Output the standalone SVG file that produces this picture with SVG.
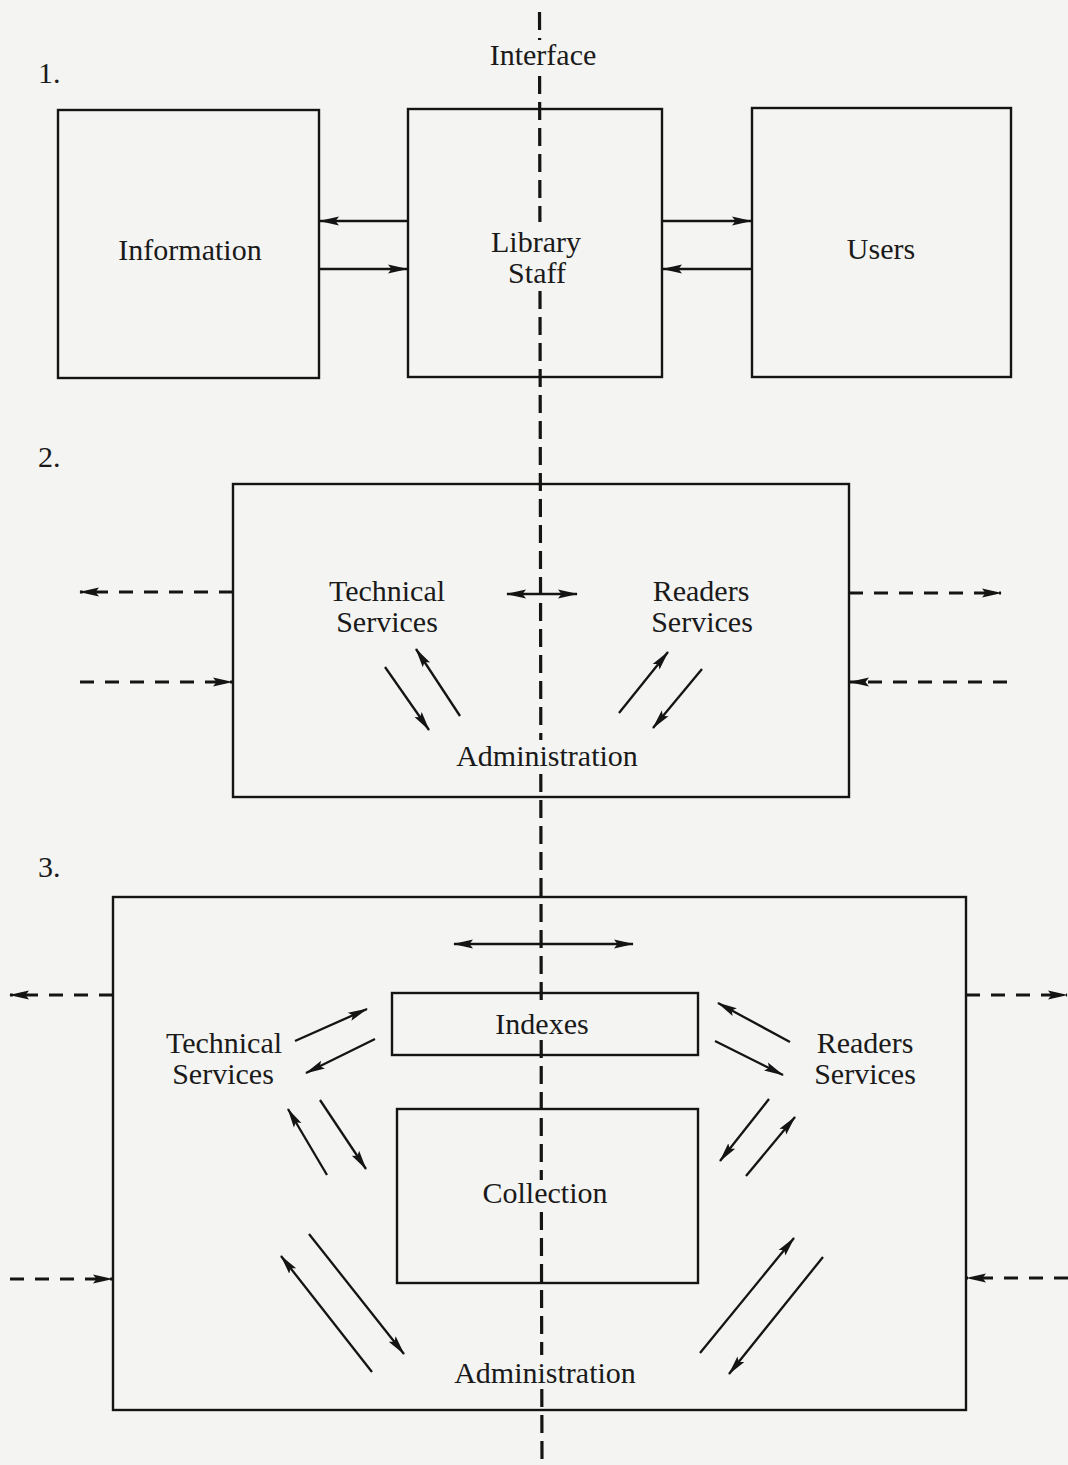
<svg xmlns="http://www.w3.org/2000/svg" width="1068" height="1465" viewBox="0 0 1068 1465">
<defs>
<marker id="ah" markerUnits="userSpaceOnUse" markerWidth="20" markerHeight="12" viewBox="0 0 20 12" refX="19" refY="6" orient="auto-start-reverse">
<path d="M0,1.6 L20,6 L0,10.4 L3.5,6 z" fill="#141414"/>
</marker>
</defs>
<style>
.box{fill:none;stroke:#141414;stroke-width:2.4}
.ar{fill:none;stroke:#141414;stroke-width:2.3;marker-end:url(#ah)}
.da{fill:none;stroke:#141414;stroke-width:2.8;stroke-dasharray:14 11;marker-end:url(#ah)}
.dbl{fill:none;stroke:#141414;stroke-width:2.3;marker-start:url(#ah);marker-end:url(#ah)}
.iface{fill:none;stroke:#141414;stroke-width:3.2;stroke-dasharray:18 8}
text{font-family:"Liberation Serif","DejaVu Serif",serif;font-size:30px;fill:#1a1a1a}
.c{text-anchor:middle}
</style>
<rect x="0" y="0" width="1068" height="1465" fill="#f4f4f2"/>

<g id="labels" font-family="Liberation Serif, serif">
<text x="38" y="83">1.</text>
<text x="38" y="467">2.</text>
<text x="38" y="877">3.</text>
</g>

<g id="interface">
<text class="c" x="543" y="65">Interface</text>
</g>

<g id="connectors">
<path class="iface" d="M539.5,12 L539.6,40 M539.6,76 L539.9,222 M540,291 L540.8,740 M540.8,774 L541.2,1004 M541.2,1040 L541.3,1180 M541.4,1212 L541.7,1355 M541.8,1389 L542,1465"/>
<!-- section 1 -->
<line class="ar" x1="408" y1="221" x2="320" y2="221"/>
<line class="ar" x1="319" y1="269" x2="407" y2="269"/>
<line class="ar" x1="662" y1="221" x2="751" y2="221"/>
<line class="ar" x1="752" y1="269" x2="663" y2="269"/>
<!-- section 2 -->
<line class="da" x1="233" y1="592" x2="80" y2="592"/>
<line class="da" x1="80" y1="682" x2="232" y2="682"/>
<line class="da" x1="849" y1="593" x2="1001" y2="593"/>
<line class="da" x1="1007" y1="682" x2="850" y2="682"/>
<line class="dbl" x1="507" y1="594" x2="577" y2="594"/>
<line class="ar" x1="385" y1="667" x2="429" y2="730"/>
<line class="ar" x1="460" y1="716" x2="416" y2="649"/>
<line class="ar" x1="619" y1="713" x2="668" y2="652"/>
<line class="ar" x1="702" y1="669" x2="653" y2="728"/>
<!-- section 3 -->
<line class="dbl" x1="454" y1="944" x2="633" y2="944"/>
<line class="da" x1="113" y1="995" x2="10" y2="995"/>
<line class="da" x1="966" y1="995" x2="1067" y2="995"/>
<line class="da" x1="10" y1="1279" x2="112" y2="1279"/>
<line class="da" x1="1068" y1="1278" x2="967" y2="1278"/>
<line class="ar" x1="295" y1="1041" x2="367" y2="1009"/>
<line class="ar" x1="375" y1="1039" x2="306" y2="1073"/>
<line class="ar" x1="327" y1="1175" x2="288" y2="1109"/>
<line class="ar" x1="320" y1="1100" x2="366" y2="1169"/>
<line class="ar" x1="790" y1="1042" x2="718" y2="1003"/>
<line class="ar" x1="715" y1="1041" x2="783" y2="1075"/>
<line class="ar" x1="769" y1="1099" x2="720" y2="1161"/>
<line class="ar" x1="746" y1="1176" x2="795" y2="1117"/>
<line class="ar" x1="372" y1="1372" x2="281" y2="1256"/>
<line class="ar" x1="309" y1="1234" x2="404" y2="1354"/>
<line class="ar" x1="700" y1="1353" x2="794" y2="1238"/>
<line class="ar" x1="823" y1="1257" x2="729" y2="1374"/>
</g>

<g id="information">
<rect class="box" x="58" y="110" width="261" height="268"/>
<text class="c" x="190" y="260">Information</text>
</g>
<g id="library-staff">
<rect class="box" x="408" y="109" width="254" height="268"/>
<text class="c" x="536" y="252">Library</text>
<text class="c" x="537" y="283">Staff</text>
</g>
<g id="users">
<rect class="box" x="752" y="108" width="259" height="269"/>
<text class="c" x="881" y="259">Users</text>
</g>

<g id="staff-2">
<rect class="box" x="233" y="484" width="616" height="313"/>
</g>
<g id="technical-services-2">
<text class="c" x="387" y="601">Technical</text>
<text class="c" x="387" y="632">Services</text>
</g>
<g id="readers-services-2">
<text class="c" x="701" y="601">Readers</text>
<text class="c" x="702" y="632">Services</text>
</g>
<g id="administration-2">
<text class="c" x="547" y="766">Administration</text>
</g>

<g id="staff-3">
<rect class="box" x="113" y="897" width="853" height="513"/>
</g>
<g id="indexes">
<rect class="box" x="392" y="993" width="306" height="62"/>
<text class="c" x="542" y="1034">Indexes</text>
</g>
<g id="collection">
<rect class="box" x="397" y="1109" width="301" height="174"/>
<text class="c" x="545" y="1203">Collection</text>
</g>
<g id="technical-services-3">
<text class="c" x="224" y="1053">Technical</text>
<text class="c" x="223" y="1084">Services</text>
</g>
<g id="readers-services-3">
<text class="c" x="865" y="1053">Readers</text>
<text class="c" x="865" y="1084">Services</text>
</g>
<g id="administration-3">
<text class="c" x="545" y="1383">Administration</text>
</g>
</svg>
